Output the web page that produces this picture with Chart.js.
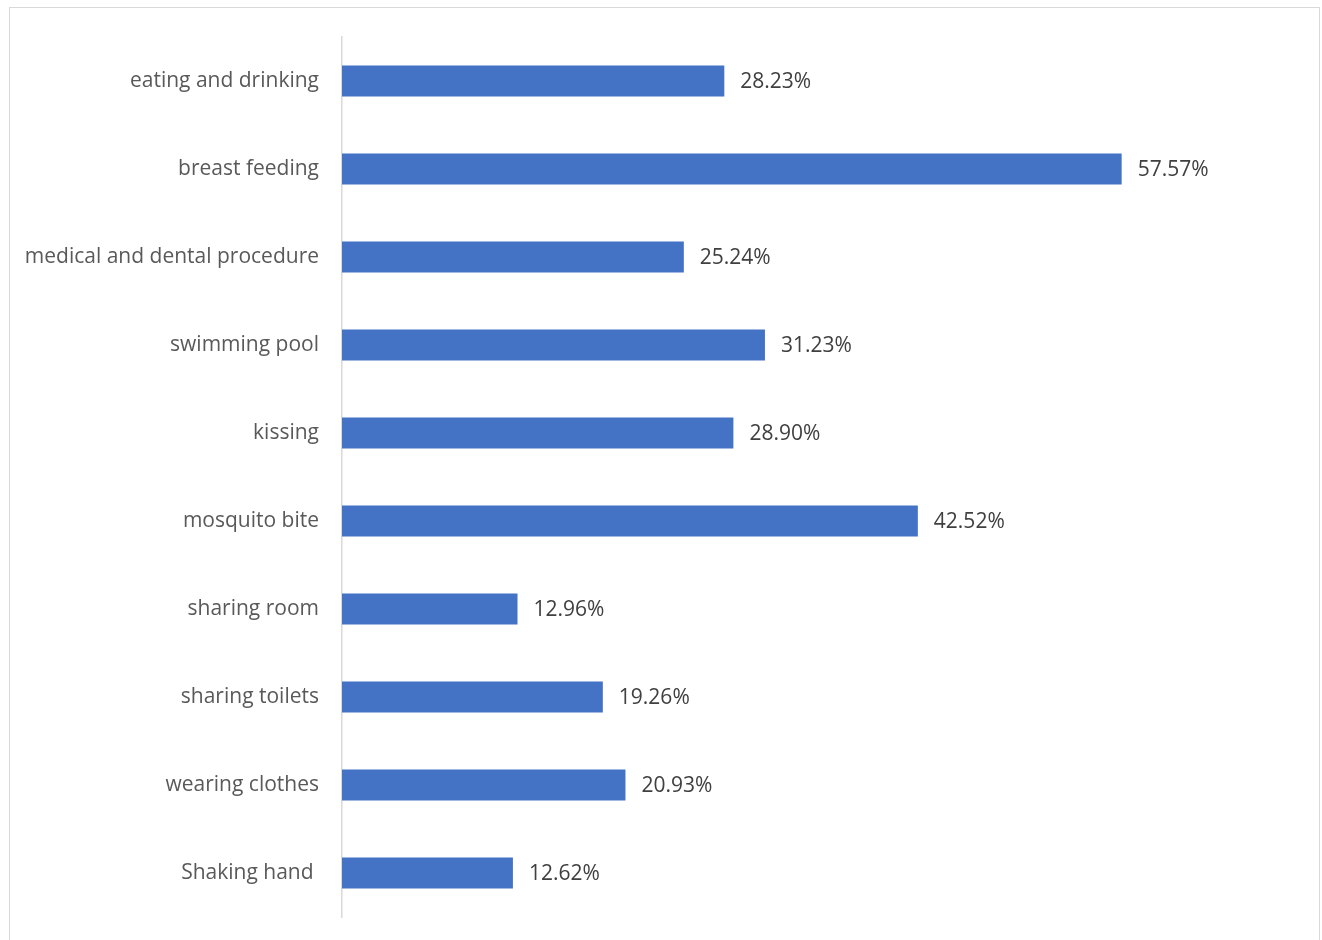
<!DOCTYPE html>
<html>
<head>
<meta charset="utf-8">
<script src="https://cdn.jsdelivr.net/npm/chart.js"></script>
<style>
  html, body { margin: 0; padding: 0; background: #fff; overflow: hidden; }
  #frame {
    position: absolute; left: 9px; top: 7px; width: 1311px; height: 960px;
    border: 1px solid #d9d9d9; box-sizing: border-box;
  }
  #chart { position: absolute; left: 0; top: 0; }
</style>
</head>
<body>
<div id="frame"></div>
<canvas id="chart" width="1322" height="940"></canvas>
<script>
// categories, top to bottom
const categories = [
  'eating and drinking',
  'breast feeding',
  'medical and dental procedure',
  'swimming pool',
  'kissing',
  'mosquito bite',
  'sharing room',
  'sharing toilets',
  'wearing clothes',
  'Shaking hand '
];
// percent of respondents
const percents = [28.23, 57.57, 25.24, 31.23, 28.90, 42.52, 12.96, 19.26, 20.93, 12.62];

// writes the value next to the end of each bar
const valueLabels = {
  id: 'valueLabels',
  afterDatasetsDraw(chart) {
    const ctx = chart.ctx;
    const meta = chart.getDatasetMeta(0);
    ctx.save();
    ctx.font = '21px "Open Sans", sans-serif';
    ctx.fillStyle = '#404040';
    ctx.textAlign = 'left';
    ctx.textBaseline = 'middle';
    meta.data.forEach((bar, i) => {
      ctx.fillText(percents[i].toFixed(2) + '%', bar.x + 16, bar.y + 1);
    });
    ctx.restore();
  }
};

new Chart(document.getElementById('chart'), {
  type: 'bar',
  data: {
    labels: categories,
    datasets: [{
      data: percents,
      backgroundColor: '#4472C4',
      borderWidth: 0,
      barPercentage: 0.352,
      categoryPercentage: 1
    }]
  },
  options: {
    indexAxis: 'y',
    responsive: false,
    animation: false,
    layout: { padding: { top: 37, bottom: 23, right: 32, left: 0 } },
    plugins: {
      legend: { display: false },
      tooltip: { enabled: false }
    },
    scales: {
      x: {
        display: false,
        min: 0,
        max: 70
      },
      y: {
        afterFit(scale) {
          // fixed label column; the labels sit inside their bands, so no extra padding
          scale.width = 342;
          scale.paddingTop = 0;
          scale.paddingBottom = 0;
        },
        grid: { display: false, drawTicks: false },
        border: { display: true, color: '#d9d9d9', width: 1.5 },
        ticks: {
          padding: 23,
          color: '#595959',
          font: { family: '"Open Sans", sans-serif', size: 21 }
        }
      }
    }
  },
  plugins: [valueLabels]
});
</script>
</body>
</html>
